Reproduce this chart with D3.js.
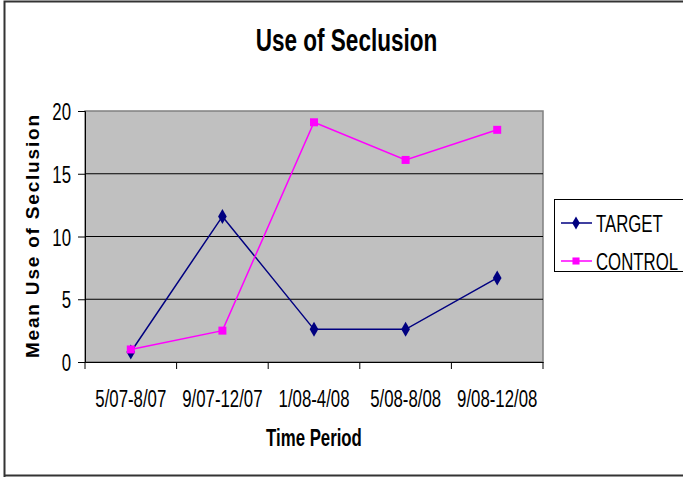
<!DOCTYPE html>
<html>
<head>
<meta charset="utf-8">
<script src="https://cdn.jsdelivr.net/npm/d3@7"></script>
<style>
  body { margin: 0; background: #fff; }
  text { font-family: "Liberation Sans", Arial, sans-serif; }
</style>
</head>
<body>
<div id="chart"></div>
<script>
var periods = ['5/07-8/07', '9/07-12/07', '1/08-4/08', '5/08-8/08', '9/08-12/08'],
    targetValues = [0.8, 11.6, 2.6, 2.6, 6.7],
    controlValues = [1.0, 2.5, 19.1, 16.1, 18.5],
    yTicks = [0, 5, 10, 15, 20];

var series = [
  { name: 'TARGET', values: targetValues, color: '#000080', symbol: d3.symbolDiamond },
  { name: 'CONTROL', values: controlValues, color: '#FF00FF', symbol: d3.symbolSquare }
];

var width = 683, height = 477;
var plot = { left: 85, right: 543, top: 111, bottom: 362 };
var sx = 0.73; // the original text looks horizontally squeezed

var svg = d3.select('#chart').append('svg')
  .attr('width', width)
  .attr('height', height);

// outer frame
svg.append('path')
  .attr('d', 'M4.5,477 V1.5 H683 M4.5,475.5 H683')
  .attr('fill', 'none')
  .attr('stroke', '#333')
  .attr('stroke-width', 2);

var x = d3.scaleBand()
  .domain(periods)
  .range([plot.left, plot.right]);

var y = d3.scaleLinear()
  .domain([0, 20])
  .range([plot.bottom, plot.top]);

// plot background
svg.append('rect')
  .attr('x', plot.left)
  .attr('y', plot.top)
  .attr('width', plot.right - plot.left)
  .attr('height', plot.bottom - plot.top)
  .attr('fill', '#C0C0C0')
  .attr('stroke', '#808080')
  .attr('stroke-width', 1.5);

// gridlines
svg.selectAll('line.grid')
  .data(yTicks.filter(function(d) { return d > 0 && d < 20; }))
  .enter().append('line')
  .attr('class', 'grid')
  .attr('x1', plot.left)
  .attr('x2', plot.right)
  .attr('y1', function(d) { return y(d); })
  .attr('y2', function(d) { return y(d); })
  .attr('stroke', '#000')
  .attr('stroke-width', 1);

// squeezed text helper
function squeeze(sel, px, py, k) {
  k = k || sx;
  sel.attr('x', px / k).attr('y', py).attr('transform', 'scale(' + k + ',1)');
}

// y axis
var yAxis = svg.append('g')
  .attr('transform', 'translate(' + plot.left + ',0)')
  .call(d3.axisLeft(y).tickValues(yTicks).tickSize(7));
yAxis.select('.domain').attr('stroke', '#000');
yAxis.selectAll('text')
  .style('font-size', '23px')
  .attr('fill', '#000')
  .attr('dy', null)
  .each(function() { squeeze(d3.select(this), -14, 8.5); });

// x axis
var xAxis = svg.append('g')
  .attr('transform', 'translate(0,' + plot.bottom + ')')
  .call(d3.axisBottom(x).tickSize(0));
xAxis.select('.domain').attr('stroke', '#000');
xAxis.selectAll('text')
  .style('font-size', '23px')
  .attr('fill', '#000')
  .attr('dy', null)
  .each(function() { squeeze(d3.select(this), 0, 45); });

// x tick marks at category boundaries
xAxis.selectAll('line.boundary')
  .data(periods.concat(['end']))
  .enter().append('line')
  .attr('class', 'boundary')
  .attr('x1', function(d, i) { return plot.left + i * x.step(); })
  .attr('x2', function(d, i) { return plot.left + i * x.step(); })
  .attr('y1', 0)
  .attr('y2', 7)
  .attr('stroke', '#000');

// lines and markers
var line = d3.line()
  .x(function(d, i) { return x(periods[i]) + x.bandwidth() / 2; })
  .y(function(d) { return y(d); });

series.forEach(function(s) {
  svg.append('path')
    .datum(s.values)
    .attr('fill', 'none')
    .attr('stroke', s.color)
    .attr('stroke-width', 1.5)
    .attr('d', line);

  svg.selectAll('path.pt-' + s.name)
    .data(s.values)
    .enter().append('path')
    .attr('class', 'pt-' + s.name)
    .attr('d', d3.symbol().type(s.symbol).size(s.name === 'TARGET' ? 65 : 64))
    .attr('transform', function(d, i) {
      return 'translate(' + (x(periods[i]) + x.bandwidth() / 2) + ',' + y(d) + ')';
    })
    .attr('fill', s.color);
});

// title
svg.append('text')
  .attr('text-anchor', 'middle')
  .style('font-size', '32px')
  .style('font-weight', 'bold')
  .call(squeeze, 346.5, 51, 0.705)
  .text('Use of Seclusion');

// axis titles
svg.append('text')
  .attr('transform', 'translate(39,' + ((plot.top + plot.bottom) / 2) + ') rotate(-90)')
  .attr('text-anchor', 'middle')
  .style('font-size', '19px')
  .style('font-weight', 'bold')
  .attr('textLength', 243)
  .attr('lengthAdjust', 'spacing')
  .text('Mean Use of Seclusion');

svg.append('text')
  .attr('text-anchor', 'middle')
  .style('font-size', '23px')
  .style('font-weight', 'bold')
  .call(squeeze, (plot.left + plot.right) / 2, 446)
  .text('Time Period');

// legend
var legend = svg.append('g');
legend.append('rect')
  .attr('x', 554.5)
  .attr('y', 199.5)
  .attr('width', 140)
  .attr('height', 72)
  .attr('fill', '#fff')
  .attr('stroke', '#000');

var items = legend.selectAll('g.item')
  .data(series)
  .enter().append('g')
  .attr('class', 'item')
  .attr('transform', function(d, i) { return 'translate(0,' + (223 + i * 38) + ')'; });

items.append('line')
  .attr('x1', 561)
  .attr('x2', 592)
  .attr('stroke', function(d) { return d.color; })
  .attr('stroke-width', 1.5);

items.append('path')
  .attr('d', function(d) { return d3.symbol().type(d.symbol).size(d.name === 'TARGET' ? 50 : 50)(); })
  .attr('transform', 'translate(576,0)')
  .attr('fill', function(d) { return d.color; });

items.append('text')
  .style('font-size', '23px')
  .each(function() { squeeze(d3.select(this), 596, 8.5); })
  .text(function(d) { return d.name; });
</script>
</body>
</html>
